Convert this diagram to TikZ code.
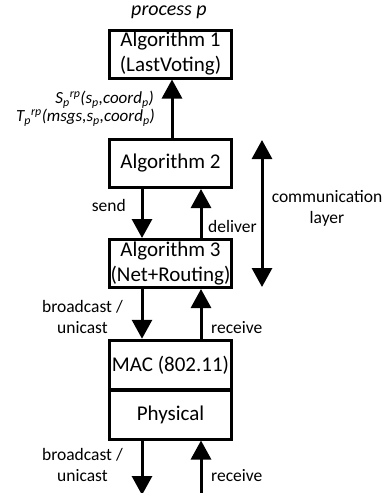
\documentclass[tikz,border=0pt]{standalone}
\usepackage{fontspec}
\setmainfont{Carlito}
\usetikzlibrary{arrows.meta}
\begin{document}
\begin{tikzpicture}[x=1pt,y=-1pt,
  box/.style={draw,line width=3pt,minimum width=122pt,minimum height=48pt,inner sep=0pt,align=center,font=\fontsize{21}{25}\selectfont},
  arr/.style={line width=3pt,-{Triangle[width=20pt,length=19pt]}},
  dbl/.style={line width=3pt,{Triangle[width=20pt,length=19pt]}-{Triangle[width=20pt,length=19pt]}},
  lbl/.style={font=\fontsize{17.5}{21}\selectfont,inner sep=0pt,align=center},
  ilbl/.style={font=\itshape\fontsize{17}{18}\selectfont,inner sep=0pt}]
\useasboundingbox (0,0) rectangle (385,493);
\node[box] (a1) at (170.5,54) {Algorithm 1\\(LastVoting)};
\node[box] (a2) at (170.5,163.5) {Algorithm 2};
\node[box] (a3) at (170.5,263.5) {Algorithm 3\\(Net+Routing)};
\node[box,minimum height=49.5pt] (mac) at (170.5,365) {MAC (802.11)};
\node[box,minimum height=49pt] (phy) at (170.5,414.5) {Physical};
\node[font=\itshape\fontsize{20}{24}\selectfont,inner sep=0pt] (pp) at (169,12) {process p};
% arrows
\draw[arr] ([xshift=1.5pt]a2.north) -- ([xshift=1.5pt]a1.south);
\draw[arr] ([xshift=-28.5pt]a2.south) -- ([xshift=-28.5pt]a3.north);
\draw[arr] ([xshift=30.5pt]a3.north) -- ([xshift=30.5pt]a2.south);
\draw[arr] ([xshift=-28.5pt]a3.south) -- ([xshift=-28.5pt]mac.north);
\draw[arr] ([xshift=30.5pt]mac.north) -- ([xshift=30.5pt]a3.south);
\coordinate (b1) at (142,495);
\coordinate (b2) at (201,495);
\draw[arr] ([xshift=-28.5pt]phy.south) -- (b1);
\draw[arr] (b2) -- ([xshift=30.5pt]phy.south);
\coordinate (c1) at (262,140);
\coordinate (c2) at (262,287);
\draw[dbl] (c1) -- (c2);
% labels
\node[ilbl,anchor=east] (s) at (154,100) {S\textsubscript{p}\textsuperscript{rp}(s\textsubscript{p},coord\textsubscript{p})};
\node[ilbl,anchor=east] (t) at (155,118) {T\textsubscript{p}\textsuperscript{rp}(msgs,s\textsubscript{p},coord\textsubscript{p})};
\node[lbl,anchor=east] (send) at (126,205) {send};
\node[lbl,anchor=west] (del) at (208,226) {deliver};
\node[lbl] (cl) at (327,208) {communication\\layer};
\node[lbl,anchor=east] (bu1) at (123,317) {broadcast /\\unicast};
\node[lbl,anchor=west] (r1) at (211,328) {receive};
\node[lbl,anchor=east] (bu2) at (123,465) {broadcast /\\unicast};
\node[lbl,anchor=west] (r2) at (211,476) {receive};
\end{tikzpicture}
\end{document}
